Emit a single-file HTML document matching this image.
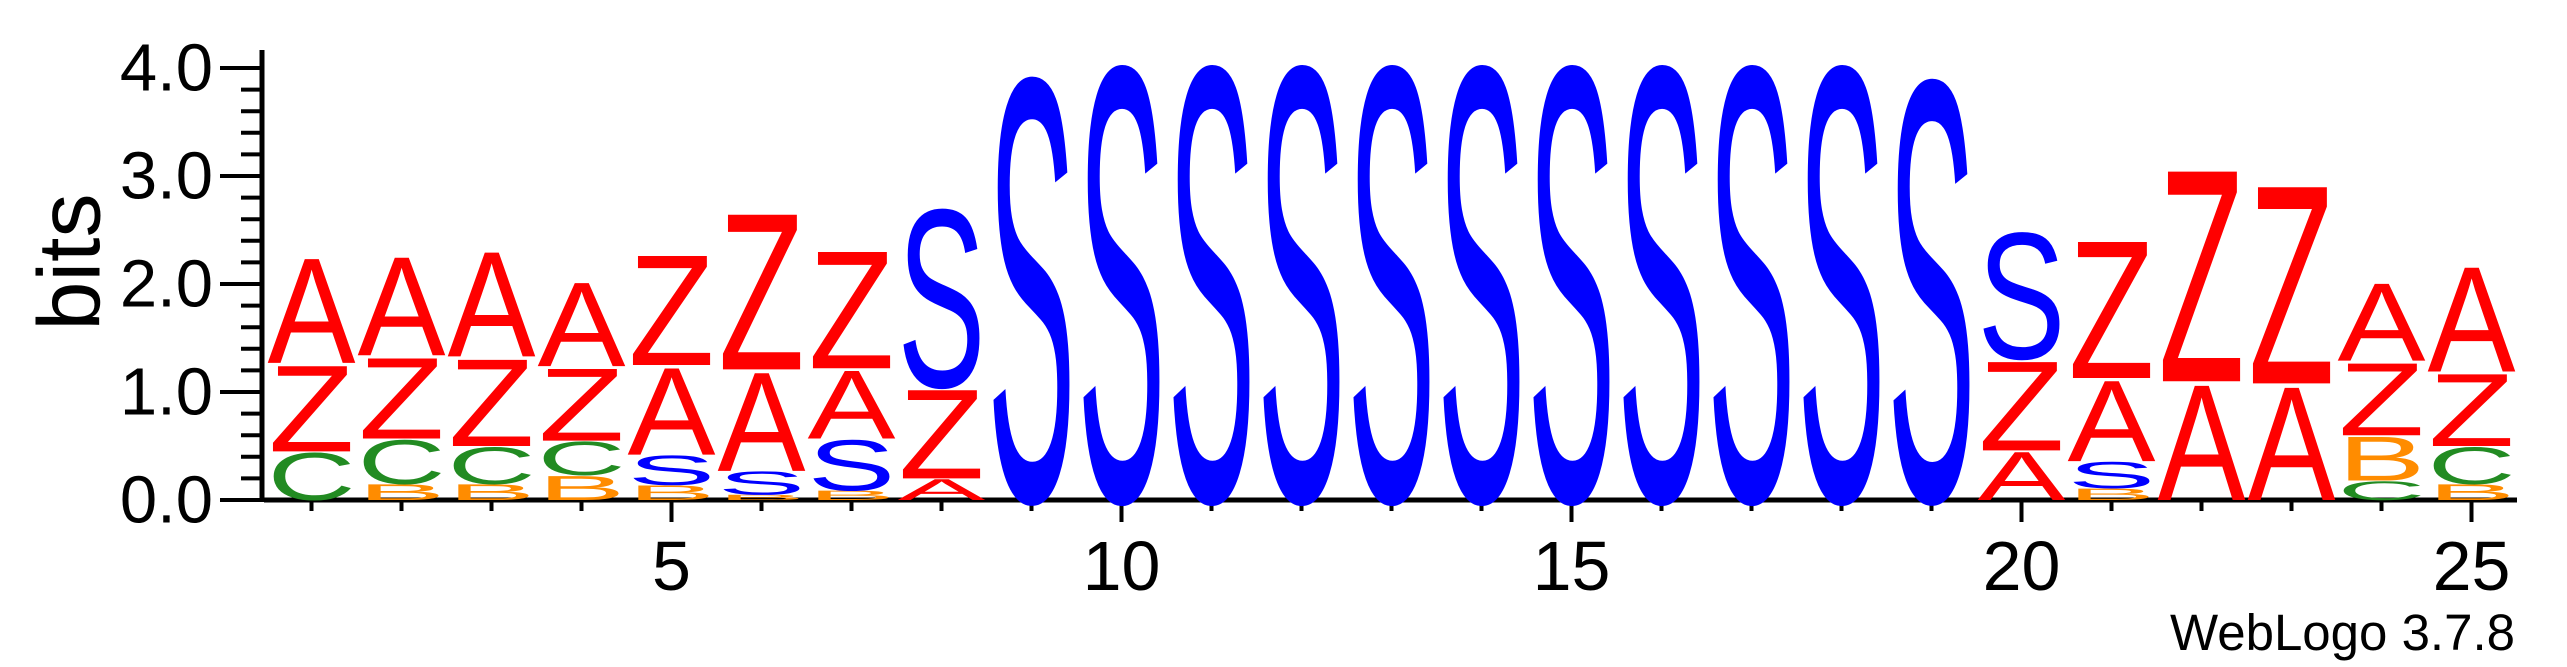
<!DOCTYPE html>
<html><head><meta charset="utf-8"><style>
html,body{margin:0;padding:0;background:#fff}
svg{display:block}
text{font-family:"Liberation Sans",sans-serif}
</style></head><body>
<svg id="chart" width="2567" height="667" viewBox="0 0 2567 667" xmlns="http://www.w3.org/2000/svg">
<g id="axes"></g>
<g id="letters"></g>
<text x="69" y="262" font-size="88" text-anchor="middle" dominant-baseline="central" transform="rotate(-90 69 262)">bits</text>
<text x="2515" y="650" font-size="51" text-anchor="end">WebLogo 3.7.8</text>
</svg>
<script>
const positions = [1,2,3,4,5,6,7,8,9,10,11,12,13,14,15,16,17,18,19,20,21,22,23,24,25];
const bitsA = [1.00,0.94,1.00,0.80,0.83,0.94,0.65,0.20,0,0,0,0,0,0,0,0,0,0,0,0.46,0.77,1.10,1.08,0.74,1.00];
const bitsZ = [0.82,0.77,0.83,0.69,1.05,1.49,1.12,0.85,0,0,0,0,0,0,0,0,0,0,0,0.85,1.31,2.02,1.89,0.69,0.69];
const bitsS = [0,0,0,0,0.28,0.22,0.48,1.69,4.02,4.13,4.13,4.13,4.13,4.13,4.13,4.13,4.13,4.13,4.00,1.20,0.25,0,0,0,0];
const bitsC = [0.45,0.42,0.35,0.32,0,0,0,0,0,0,0,0,0,0,0,0,0,0,0,0,0,0,0,0.18,0.35];
const bitsB = [0,0.15,0.15,0.23,0.14,0.05,0.09,0,0,0,0,0,0,0,0,0,0,0,0,0,0.11,0,0,0.42,0.15];
const yTicks = ["0.0","1.0","2.0","3.0","4.0"];
const xTickLabels = [5,10,15,20,25];

const NS = "http://www.w3.org/2000/svg";
const X0 = 311.5, DX = 90, Y0 = 500, PPB = 108;
const xScale = p => X0 + (p - 1) * DX;
const yScale = b => Y0 - b * PPB;
const colors = {A:"#ff0000", Z:"#ff0000", S:"#0000ff", C:"#228b22", B:"#ff8c00"};
const series = {A:bitsA, Z:bitsZ, S:bitsS, C:bitsC, B:bitsB};

function mk(tag, attrs, parent){
  const e = document.createElementNS(NS, tag);
  for (const k in attrs) e.setAttribute(k, attrs[k]);
  parent.appendChild(e);
  return e;
}
const axes = document.getElementById("axes");
const letters = document.getElementById("letters");

let l = mk("line", {x1:262, y1:50, x2:262, y2:502, stroke:"#000", "stroke-width":5}, axes);


for (let i = 0; i <= 20; i++) {
  const b = i * 0.2, y = yScale(b), major = (i % 5 === 0);
  const t = mk("line", {x1: major ? 220 : 241, y1:y, x2:262, y2:y, stroke:"#000", "stroke-width":4}, axes);
  
  
}
yTicks.forEach(s => {
  const t = mk("text", {x:213, y:yScale(parseFloat(s)), "font-size":67, "text-anchor":"end", "dominant-baseline":"central"}, axes);
  t.textContent = s;
  
  
});
l = mk("line", {x1:264, y1:500, x2:2517, y2:500, stroke:"#000", "stroke-width":5}, axes);


positions.forEach(p => {
  const major = xTickLabels.includes(p);
  const t = mk("line", {x1:xScale(p), y1:500, x2:xScale(p), y2: major ? 522 : 511, stroke:"#000", "stroke-width":4}, axes);
  
  
});
xTickLabels.forEach(p => {
  const t = mk("text", {x:xScale(p), y:590, "font-size":70, "text-anchor":"middle"}, axes);
  t.textContent = p;
  
  
});

const CAP = 71.6;
const inkW = {A:88, Z:86, S:88, C:88, B:88};
positions.forEach((p, i) => {
  const stack = Object.keys(series).map(k => [k, series[k][i]]).filter(d => d[1] > 0.02);
  stack.sort((a, b) => a[1] - b[1]);
  let base = 0;
  const cx = xScale(p);
  stack.forEach(([k, v]) => {
    const h = v * PPB;
    const yb = yScale(base);
    const w = inkW[k];
    const g = mk("g", {transform:`translate(${cx - w / 2},${yb}) scale(1,${h / CAP})`}, letters);
    const t = mk("text", {x:0, y:0, "font-size":100, fill:colors[k], textLength:w, lengthAdjust:"spacingAndGlyphs"}, g);
    t.textContent = k;
    
    
    base += v;
  });
});
</script>
</body></html>
